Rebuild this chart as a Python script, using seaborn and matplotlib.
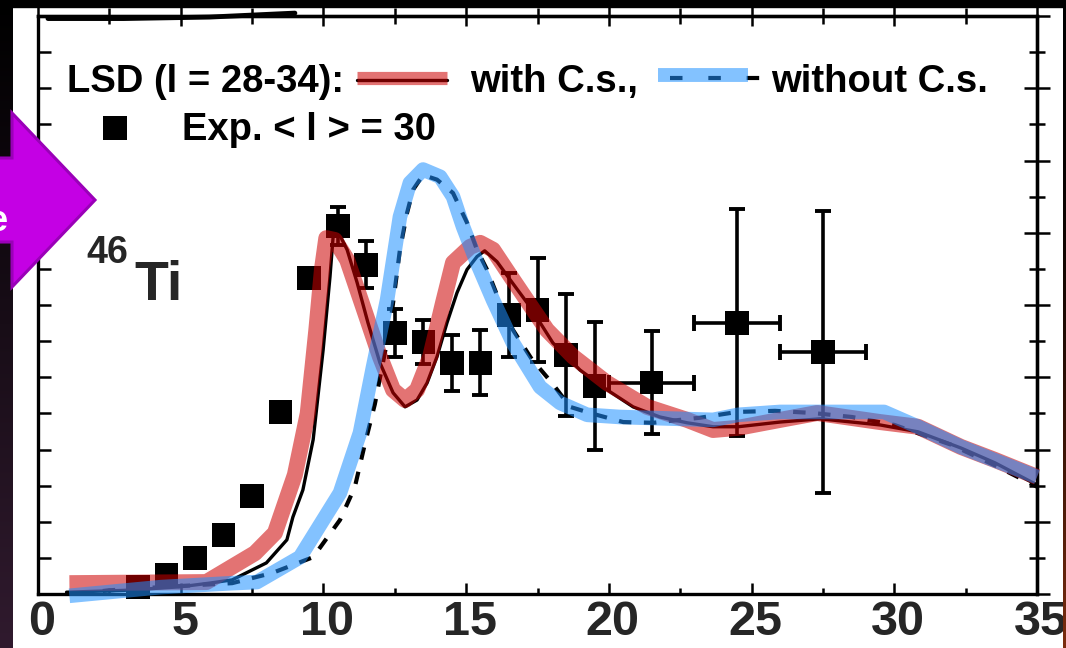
import numpy as np
import pandas as pd
import matplotlib
matplotlib.use("Agg")
import matplotlib.pyplot as plt
import matplotlib.transforms as mtransforms
from matplotlib.patches import Polygon, Rectangle
from matplotlib.lines import Line2D
from matplotlib.ticker import MultipleLocator
import seaborn as sns

sns.set_theme(style="white")
plt.rcParams["font.family"] = ["Liberation Sans", "DejaVu Sans"]

# ---------------- data ----------------
exp_x = [3.5, 4.5, 5.5, 6.5, 7.5, 8.5, 9.5, 10.5, 11.5, 12.5, 13.5, 14.5, 15.5,
         16.5, 17.5, 18.5, 19.5, 21.5, 24.5, 27.5]
exp_y = [0.19, 0.53, 1.0, 1.63, 2.71, 5.04, 8.75, 10.19, 9.11, 7.23, 6.98, 6.40,
         6.40, 7.73, 7.87, 6.62, 5.76, 5.85, 7.51, 6.70]
exp_yerr = [0, 0, 0, 0, 0, 0, 0, 0.53, 0.65, 0.66, 0.61, 0.78, 0.9, 1.16, 1.44,
            1.69, 1.78, 1.43, 3.14, 3.9]
exp_xerr = [0, 0, 0, 0, 0, 0, 0, 0, 0, 0, 0, 0, 0, 0, 0, 0, 0, 1.5, 1.5, 1.5]

with_x = [1, 3, 5, 6, 6.8, 8.0, 8.72, 8.93, 9.28, 9.64, 9.99, 10.23, 10.34, 10.48,
          10.83, 11.18, 11.56, 11.98, 12.44, 12.86, 13.28, 13.63, 13.98, 14.33,
          14.68, 15.03, 15.38, 15.65, 16.08, 16.54, 17.24, 18.04, 18.99, 19.94,
          20.85, 21.79, 22.74, 23.65, 24.53, 26.0, 27.4, 29.5, 30.83, 32.34, 33.53, 35.0]
with_y = [0.05, 0.1, 0.2, 0.3, 0.39, 0.86, 1.5, 2.13, 2.88, 4.27, 6.76, 8.78, 9.89,
          10.08, 9.53, 8.62, 7.51, 6.40, 5.57, 5.18, 5.37, 5.84, 6.57, 7.51, 8.34,
          8.98, 9.34, 9.5, 9.2, 8.7, 7.95, 6.95, 6.20, 5.65, 5.18, 4.90, 4.74, 4.63,
          4.63, 4.76, 4.85, 4.68, 4.49, 4.04, 3.63, 3.02]

without_x = [1.4, 2.45, 4.5, 6.8, 8.2, 9.64, 10.58, 11.1, 11.46, 11.8, 12.33, 12.5,
             12.68, 12.93, 13.14, 13.49, 13.98, 14.54, 15.03, 15.38, 15.73, 16.19,
             16.64, 17.3, 18.01, 18.64, 19.34, 20.5, 21.55, 23.2, 24.5, 25.82, 27.15,
             28.52, 30.0, 32.0, 33.5, 35.0]
without_y = [0.0, 0.1, 0.2, 0.3, 0.58, 1.02, 2.05, 2.96, 4.18, 5.25, 7.4, 8.42, 9.53,
             10.55, 11.19, 11.6, 11.47, 11.1, 10.28, 9.53, 8.98, 8.06, 7.31, 6.5,
             5.84, 5.18, 5.01, 4.76, 4.74, 4.88, 5.04, 5.07, 5.01, 4.9, 4.68, 4.13,
             3.57, 2.97]

red_x = [1.1, 5.9, 7.6, 8.3, 9.0, 9.45, 9.75, 9.95, 10.1, 10.4, 10.83, 11.39, 11.98,
         12.44, 12.86, 13.28, 13.74, 14.19, 14.54, 15.14, 15.49, 15.94, 16.64, 17.83,
         18.75, 19.94, 21.34, 22.74, 23.65, 24.53, 26.0, 27.3, 29.5, 30.83, 32.34,
         33.53, 35.0]
red_y = [0.3, 0.33, 1.13, 1.69, 3.3, 5.0, 7.3, 9.0, 9.85, 9.8, 9.25, 7.95, 6.57, 5.65,
         5.37, 5.65, 6.57, 8.06, 9.17, 9.61, 9.72, 9.53, 8.7, 7.31, 6.57, 5.84, 5.18,
         4.82, 4.54, 4.6, 4.82, 5.01, 4.76, 4.63, 4.07, 3.71, 3.24]

blue_x = [1.1, 4.3, 6.8, 7.67, 9.18, 10.58, 11.28, 11.74, 12.23, 12.68, 13.03, 13.49,
          14.09, 14.54, 14.89, 15.38, 15.94, 16.64, 17.59, 18.29, 19.24, 20.39, 23.65,
          24.53, 26.0, 27.4, 29.64, 30.83, 32.34, 35.0]
blue_y = [-0.05, 0.19, 0.3, 0.33, 1.02, 2.8, 4.46, 6.29, 8.14, 10.44, 11.38, 11.75,
          11.55, 11.0, 10.17, 9.17, 8.14, 6.95, 5.73, 5.29, 4.96, 4.9, 4.82, 4.96,
          5.04, 5.04, 5.04, 4.63, 4.07, 3.24]

upper_x = [0.35, 3.0, 6.0, 9.0]
upper_y = [15.93, 15.93, 15.97, 16.08]

xticks = [0, 5, 10, 15, 20, 25, 30, 35]
xtick_labels = ["0", "5", "10", "15", "20", "25", "30", "35"]

RED = "#CD0000"
BLUE = "#1E90FF"
ALPHA = 0.55

# ---------------- figure ----------------
W, H = 1066, 648
fig = plt.figure(figsize=(W / 100, H / 100), dpi=100)
fig.patch.set_facecolor("white")
L, R, B, T = 38, 1037, 594, 16
ax = fig.add_axes([L / W, 1 - B / H, (R - L) / W, (B - T) / H])
ax.set_facecolor("white")

exp_df = pd.DataFrame({"x": exp_x, "y": exp_y, "yerr": exp_yerr, "xerr": exp_xerr})
ey = exp_df[(exp_df.yerr > 0) & (exp_df.xerr == 0)]
exy = exp_df[exp_df.xerr > 0]
ax.errorbar(ey.x, ey.y, yerr=ey.yerr, fmt="none", ecolor="black", elinewidth=2.6,
            capsize=6, capthick=2.8, zorder=2)
ax.errorbar(exy.x, exy.y, yerr=exy.yerr, xerr=exy.xerr, fmt="none", ecolor="black",
            elinewidth=2.6, capsize=6, capthick=2.8, zorder=2)
sns.scatterplot(data=exp_df, x="x", y="y", marker="s", s=17 ** 2, color="black",
                edgecolor="none", linewidth=0, ax=ax, zorder=3, clip_on=False)

sns.lineplot(x=with_x, y=with_y, ax=ax, color="black", lw=2.4, zorder=4,
             estimator=None, sort=False)
sns.lineplot(x=without_x, y=without_y, ax=ax, color="black", lw=3.0, zorder=4,
             estimator=None, sort=False, dashes=False)
ax.lines[-1].set_dashes((3, 3))

sns.lineplot(x=red_x, y=red_y, ax=ax, color=RED, alpha=ALPHA, lw=11.5, zorder=5,
             estimator=None, sort=False, solid_capstyle="butt",
             solid_joinstyle="round")
sns.lineplot(x=blue_x, y=blue_y, ax=ax, color=BLUE, alpha=ALPHA, lw=10.5, zorder=6,
             estimator=None, sort=False, solid_capstyle="butt",
             solid_joinstyle="round")
for ln in ax.lines[-2:]:
    ln.set_clip_on(False)

sns.lineplot(x=upper_x, y=upper_y, ax=ax, color="black", lw=3.5, zorder=7,
             estimator=None, sort=False)
ax.lines[-1].set_clip_on(False)

ax.set_xlim(0, 35)
ax.set_ylim(0, 16.0)
ax.set_xlabel("")
ax.set_ylabel("")
if ax.get_legend():
    ax.get_legend().remove()

for s in ax.spines.values():
    s.set_visible(True)
    s.set_color("black")
    s.set_linewidth(2.4)

ax.set_xticks(xticks)
ax.set_xticklabels(xtick_labels, fontsize=35, fontweight="bold")
ax.xaxis.set_minor_locator(MultipleLocator(2.5))
ax.tick_params(axis="x", which="major", direction="in", length=8, width=1.8,
               color="black", pad=4, bottom=True, top=False)
ax.tick_params(axis="x", which="minor", direction="in", length=4.5, width=1.8,
               color="black", bottom=True, top=False)
off = mtransforms.ScaledTranslation(4 / 100, 0, fig.dpi_scale_trans)
for lab in ax.get_xticklabels():
    lab.set_transform(lab.get_transform() + off)

ax.yaxis.set_major_locator(MultipleLocator(1))
ax.tick_params(axis="y", which="major", direction="in", length=9.5, width=1.8,
               color="black", left=True, right=False, labelleft=False)

# top ticks
sec_top = ax.secondary_xaxis("top")
sec_top.set_xticks(xticks)
sec_top.set_xticklabels([])
sec_top.xaxis.set_minor_locator(MultipleLocator(2.5))
sec_top.tick_params(which="major", direction="inout", length=15, width=1.8, color="black")
sec_top.tick_params(which="minor", direction="inout", length=11, width=1.8, color="black")
sec_top.spines["top"].set_linewidth(2.4)

# right ticks
sec_r = ax.secondary_yaxis("right")
sec_r.yaxis.set_major_locator(MultipleLocator(2))
sec_r.yaxis.set_minor_locator(MultipleLocator(1))
sec_r.set_yticklabels([])
sec_r.tick_params(which="major", direction="inout", length=19, width=1.8, color="black")
sec_r.tick_params(which="minor", direction="inout", length=11, width=1.8, color="black")
sec_r.spines["right"].set_linewidth(2.4)

# ---------------- overlay (pixel coords) ----------------
ov = fig.add_axes([0, 0, 1, 1], zorder=10)
ov.set_xlim(0, W)
ov.set_ylim(H, 0)
ov.axis("off")
ov.patch.set_alpha(0)

tkw = dict(fontsize=27.5, fontweight="bold", va="baseline", ha="left", color="black")
ov.text(67, 92, "LSD (l = 28-34):", **tkw)
ov.text(470, 92, "with C.s.,", **tkw)
ov.text(771, 92, "without C.s.", **tkw)
ov.text(182, 140, "Exp. < l > = 30", **tkw)
ov.text(86, 263, "46", fontsize=27, fontweight="bold", va="baseline", ha="left")
ov.text(134, 300, "Ti", fontsize=40, fontweight="bold", va="baseline", ha="left")

# legend keys
ov.add_line(Line2D([357, 447], [79.5, 79.5], color="black", lw=2.4))
ov.add_line(Line2D([357, 447], [77.5, 77.5], color=RED, alpha=ALPHA, lw=9.5,
                   solid_capstyle="butt"))
ov.add_line(Line2D([670, 762], [78, 78], color="black", lw=3.0, dashes=(3, 6.2)))
ov.add_line(Line2D([658, 748], [75, 75], color=BLUE, alpha=ALPHA, lw=10,
                   solid_capstyle="butt"))
ov.scatter([115], [128], marker="s", s=17 ** 2, color="black", linewidths=0)

# frame strips
grad = np.linspace(0, 1, 256)[:, None]
left_cols = np.zeros((256, 1, 3))
left_cols[:, 0, 0] = grad[:, 0] * 48 / 255
left_cols[:, 0, 1] = grad[:, 0] * 26 / 255
left_cols[:, 0, 2] = grad[:, 0] * 46 / 255
ov.imshow(left_cols, extent=[0, 12.5, H, 0], aspect="auto", zorder=11)
right_cols = np.zeros((256, 1, 3))
right_cols[:, 0, 0] = grad[:, 0] ** 2 * 125 / 255
right_cols[:, 0, 1] = grad[:, 0] ** 2 * 45 / 255
right_cols[:, 0, 2] = grad[:, 0] ** 2 * 15 / 255
ov.imshow(right_cols, extent=[1063, W, H, 0], aspect="auto", zorder=11)
ov.add_patch(Rectangle((0, 0), W, 7, color="black", zorder=12))
ov.set_xlim(0, W)
ov.set_ylim(H, 0)

# magenta arrow
arrow = Polygon([[-5, 158], [12, 158], [12, 113], [95, 200], [12, 287], [12, 242],
                 [-5, 242]], closed=True, facecolor="#C400E4", edgecolor="#9A00B8",
                lw=2.2, zorder=13)
ov.add_patch(arrow)
ov.text(8, 231, "e", fontsize=26, fontweight="bold", color="white", ha="right",
        va="baseline", zorder=14)

fig.savefig("out.png", dpi=100, facecolor="white")
